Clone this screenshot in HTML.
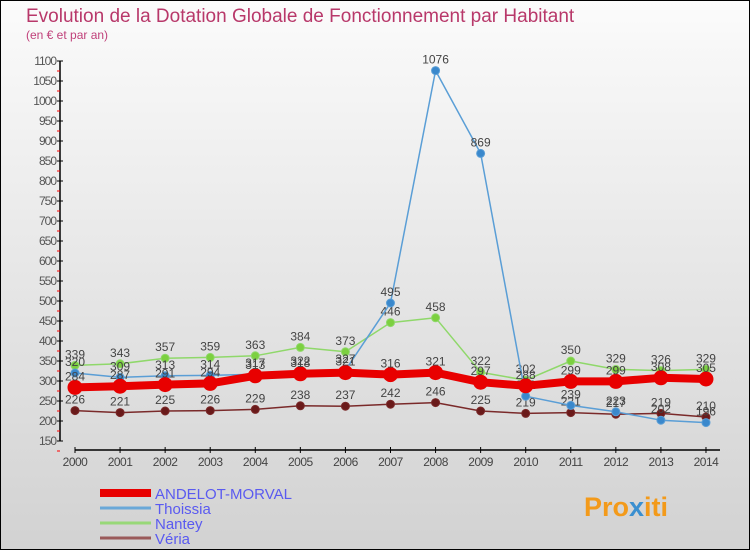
<!DOCTYPE html>
<html><head><meta charset="utf-8"><style>
html,body{margin:0;padding:0}
body{width:750px;height:550px;overflow:hidden;font-family:"Liberation Sans",sans-serif}
#wrap{position:absolute;left:0;top:0;width:748px;height:548px;border:1px solid #000;background:linear-gradient(#fbfbfb,#d2d2d2)}
</style></head><body>
<div id="wrap">
<svg id="chart" width="748" height="548" viewBox="1 1 748 548" xmlns="http://www.w3.org/2000/svg">
<text x="26" y="22" font-size="19" fill="#b8386a">Evolution de la Dotation Globale de Fonctionnement par Habitant</text>
<text x="26" y="39" font-size="12" fill="#c0407a">(en € et par an)</text>
<g id="axes"></g>
<g id="series"></g>
<g id="legend"></g>
<g>
<text x="584" y="516" font-size="27" font-weight="bold" fill="#f39a1a">Pro<tspan fill="#3a8fd0">x</tspan>iti</text>
</g>
</svg>
</div>
<script>
const years=["2000","2001","2002","2003","2004","2005","2006","2007","2008","2009","2010","2011","2012","2013","2014"];
const andelot=[284,287,291,294,313,318,321,316,321,297,288,299,299,308,305];
const thoissia=[320,309,313,314,317,322,327,495,1076,869,262,239,223,202,196];
const nantey=[339,343,357,359,363,384,373,446,458,322,302,350,329,326,329];
const veria=[226,221,225,226,229,238,237,242,246,225,219,221,217,219,210];
const yTicks=[150,200,250,300,350,400,450,500,550,600,650,700,750,800,850,900,950,1000,1050,1100];
const seriesNames=["ANDELOT-MORVAL","Thoissia","Nantey","Véria"];

const NS="http://www.w3.org/2000/svg";
const x=i=>75+i*45.07;
const y=v=>441-(v-150)*0.4;
function mk(tag,attrs,parent){const e=document.createElementNS(NS,tag);for(const k in attrs)e.setAttribute(k,attrs[k]);parent.appendChild(e);return e;}
const axes=document.getElementById('axes');
let yl=mk('line',{x1:60,y1:y(1100),x2:60,y2:y(150),stroke:'#000','stroke-width':1.5},axes);


yTicks.forEach(t=>{
  let l=mk('line',{x1:57,y1:y(t),x2:63,y2:y(t),stroke:'#000'},axes);
  
  
  let m=mk('line',{x1:57,y1:y(t)+10,x2:60,y2:y(t)+10,stroke:'#f00'},axes);
  
  
  let tx=mk('text',{x:56,y:y(t)+4,'font-size':12,'text-anchor':'end',fill:'#555','letter-spacing':'-1'},axes);
  tx.textContent=t;
  
  
});
let xl=mk('line',{x1:75,y1:450,x2:720,y2:450,stroke:'#000','stroke-width':1.5},axes);


years.forEach((yr,i)=>{
  let l=mk('line',{x1:x(i),y1:447,x2:x(i),y2:453,stroke:'#000'},axes);
  
  
  let tx=mk('text',{x:x(i),y:466,'font-size':12,'text-anchor':'middle',fill:'#444','letter-spacing':'-0.5'},axes);
  tx.textContent=yr;
  
  
});
const sg=document.getElementById('series');
function drawSeries(data,color,dot,width,r,name,above){
  const g=mk('g',{},sg);
  
  
  const p=mk('polyline',{points:data.map((v,i)=>x(i)+','+y(v)).join(' '),fill:'none',stroke:color,'stroke-width':width,'stroke-linejoin':'round'},g);
  
  
  data.forEach((v,i)=>{
    const c=mk('circle',{cx:x(i),cy:y(v),r:r,fill:dot,stroke:color,'stroke-width':1},g);
    
    
    const t=mk('text',{x:x(i),y:y(v)-7,'font-size':12,'text-anchor':'middle',fill:'#444'},g);
    t.textContent=v;
    
    
  });
}
drawSeries(veria,'#7a2a2a','#6a1a1a',1.5,4,'veria');
drawSeries(nantey,'#8fd86a','#7cd040',1.5,4,'nantey');
drawSeries(thoissia,'#5a9ed6','#3a88cc',1.5,4,'thoissia');
drawSeries(andelot,'#e80000','#e80000',8,7,'andelot-morval');
const lg=document.getElementById('legend');
const lcols=['#e80000','#6aa8d8','#98d878','#9a5a5a'];
const lw=[8,3,3,3];
seriesNames.forEach((n,i)=>{
  const yy=493+i*15;
  const l=mk('line',{x1:100,y1:yy,x2:151,y2:yy,stroke:lcols[i],'stroke-width':lw[i]},lg);
  
  
  const t=mk('text',{x:155,y:yy+6,'font-size':15,fill:'#5a5af0'},lg);
  t.textContent=n;
  
  
});
</script>
</body></html>
